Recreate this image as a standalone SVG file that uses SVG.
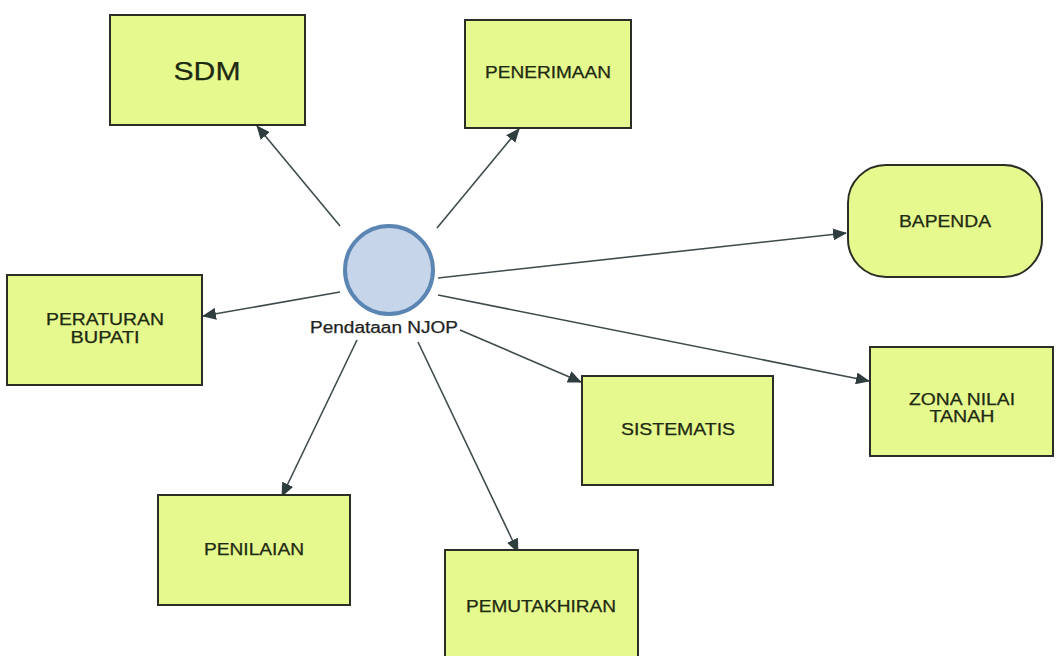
<svg xmlns="http://www.w3.org/2000/svg" width="1056" height="656" viewBox="0 0 1056 656">
<style>
.box{fill:#e6f98f;stroke:#2a2f25;stroke-width:2}
.lbl{font-family:"Liberation Sans",Arial,sans-serif;font-size:16px;fill:#1e2a12;stroke:#1e2a12;stroke-width:0.25;text-anchor:middle}
.edge{stroke:#3e4b4c;stroke-width:1.6;fill:none;marker-end:url(#ah)}
</style>
<defs>
<marker id="ah" markerWidth="14" markerHeight="12" refX="13" refY="6" orient="auto" markerUnits="userSpaceOnUse">
<path d="M0,0 L14,6 L0,12 z" fill="#2f3d3e"/>
</marker>
</defs>
<rect width="1056" height="656" fill="#ffffff"/>
<g id="connectors">
<line class="edge" x1="340" y1="226" x2="257" y2="126"/>
<line class="edge" x1="437" y1="228" x2="519" y2="129"/>
<line class="edge" x1="438" y1="278" x2="846" y2="233"/>
<line class="edge" x1="340" y1="292" x2="203" y2="316"/>
<line class="edge" x1="438" y1="295" x2="869" y2="381"/>
<line class="edge" x1="460" y1="330" x2="581" y2="382"/>
<line class="edge" x1="357" y1="340" x2="282" y2="496"/>
<line class="edge" x1="418" y1="342" x2="518" y2="552"/>
</g>
<g id="center">
<circle cx="389" cy="270" r="44" fill="#c6d5ea" stroke="#5b86b3" stroke-width="4"/>
<text class="lbl" x="384" y="333" textLength="148" lengthAdjust="spacingAndGlyphs" style="fill:#222;stroke:#222">Pendataan NJOP</text>
</g>
<g id="sdm">
<rect class="box" x="110" y="15" width="195" height="110"/>
<text class="lbl" x="207" y="80" textLength="67" lengthAdjust="spacingAndGlyphs" style="font-size:25px">SDM</text>
</g>
<g id="penerimaan">
<rect class="box" x="465" y="20" width="166" height="108"/>
<text class="lbl" x="548" y="78" textLength="126" lengthAdjust="spacingAndGlyphs">PENERIMAAN</text>
</g>
<g id="bapenda">
<rect class="box" x="848" y="165" width="194" height="112" rx="38" ry="38"/>
<text class="lbl" x="945" y="227" textLength="92" lengthAdjust="spacingAndGlyphs">BAPENDA</text>
</g>
<g id="peraturan">
<rect class="box" x="7" y="275" width="195" height="110"/>
<text class="lbl" x="105" y="325" textLength="118" lengthAdjust="spacingAndGlyphs">PERATURAN</text>
<text class="lbl" x="105" y="343" textLength="69" lengthAdjust="spacingAndGlyphs">BUPATI</text>
</g>
<g id="zona">
<rect class="box" x="870" y="347" width="183" height="109"/>
<text class="lbl" x="962" y="405" textLength="106" lengthAdjust="spacingAndGlyphs">ZONA NILAI</text>
<text class="lbl" x="962" y="422" textLength="65" lengthAdjust="spacingAndGlyphs">TANAH</text>
</g>
<g id="sistematis">
<rect class="box" x="582" y="376" width="191" height="109"/>
<text class="lbl" x="678" y="435" textLength="114" lengthAdjust="spacingAndGlyphs">SISTEMATIS</text>
</g>
<g id="penilaian">
<rect class="box" x="158" y="495" width="192" height="110"/>
<text class="lbl" x="254" y="555" textLength="100" lengthAdjust="spacingAndGlyphs">PENILAIAN</text>
</g>
<g id="pemutakhiran">
<rect class="box" x="445" y="550" width="193" height="115"/>
<text class="lbl" x="541" y="612" textLength="150" lengthAdjust="spacingAndGlyphs">PEMUTAKHIRAN</text>
</g>
</svg>
